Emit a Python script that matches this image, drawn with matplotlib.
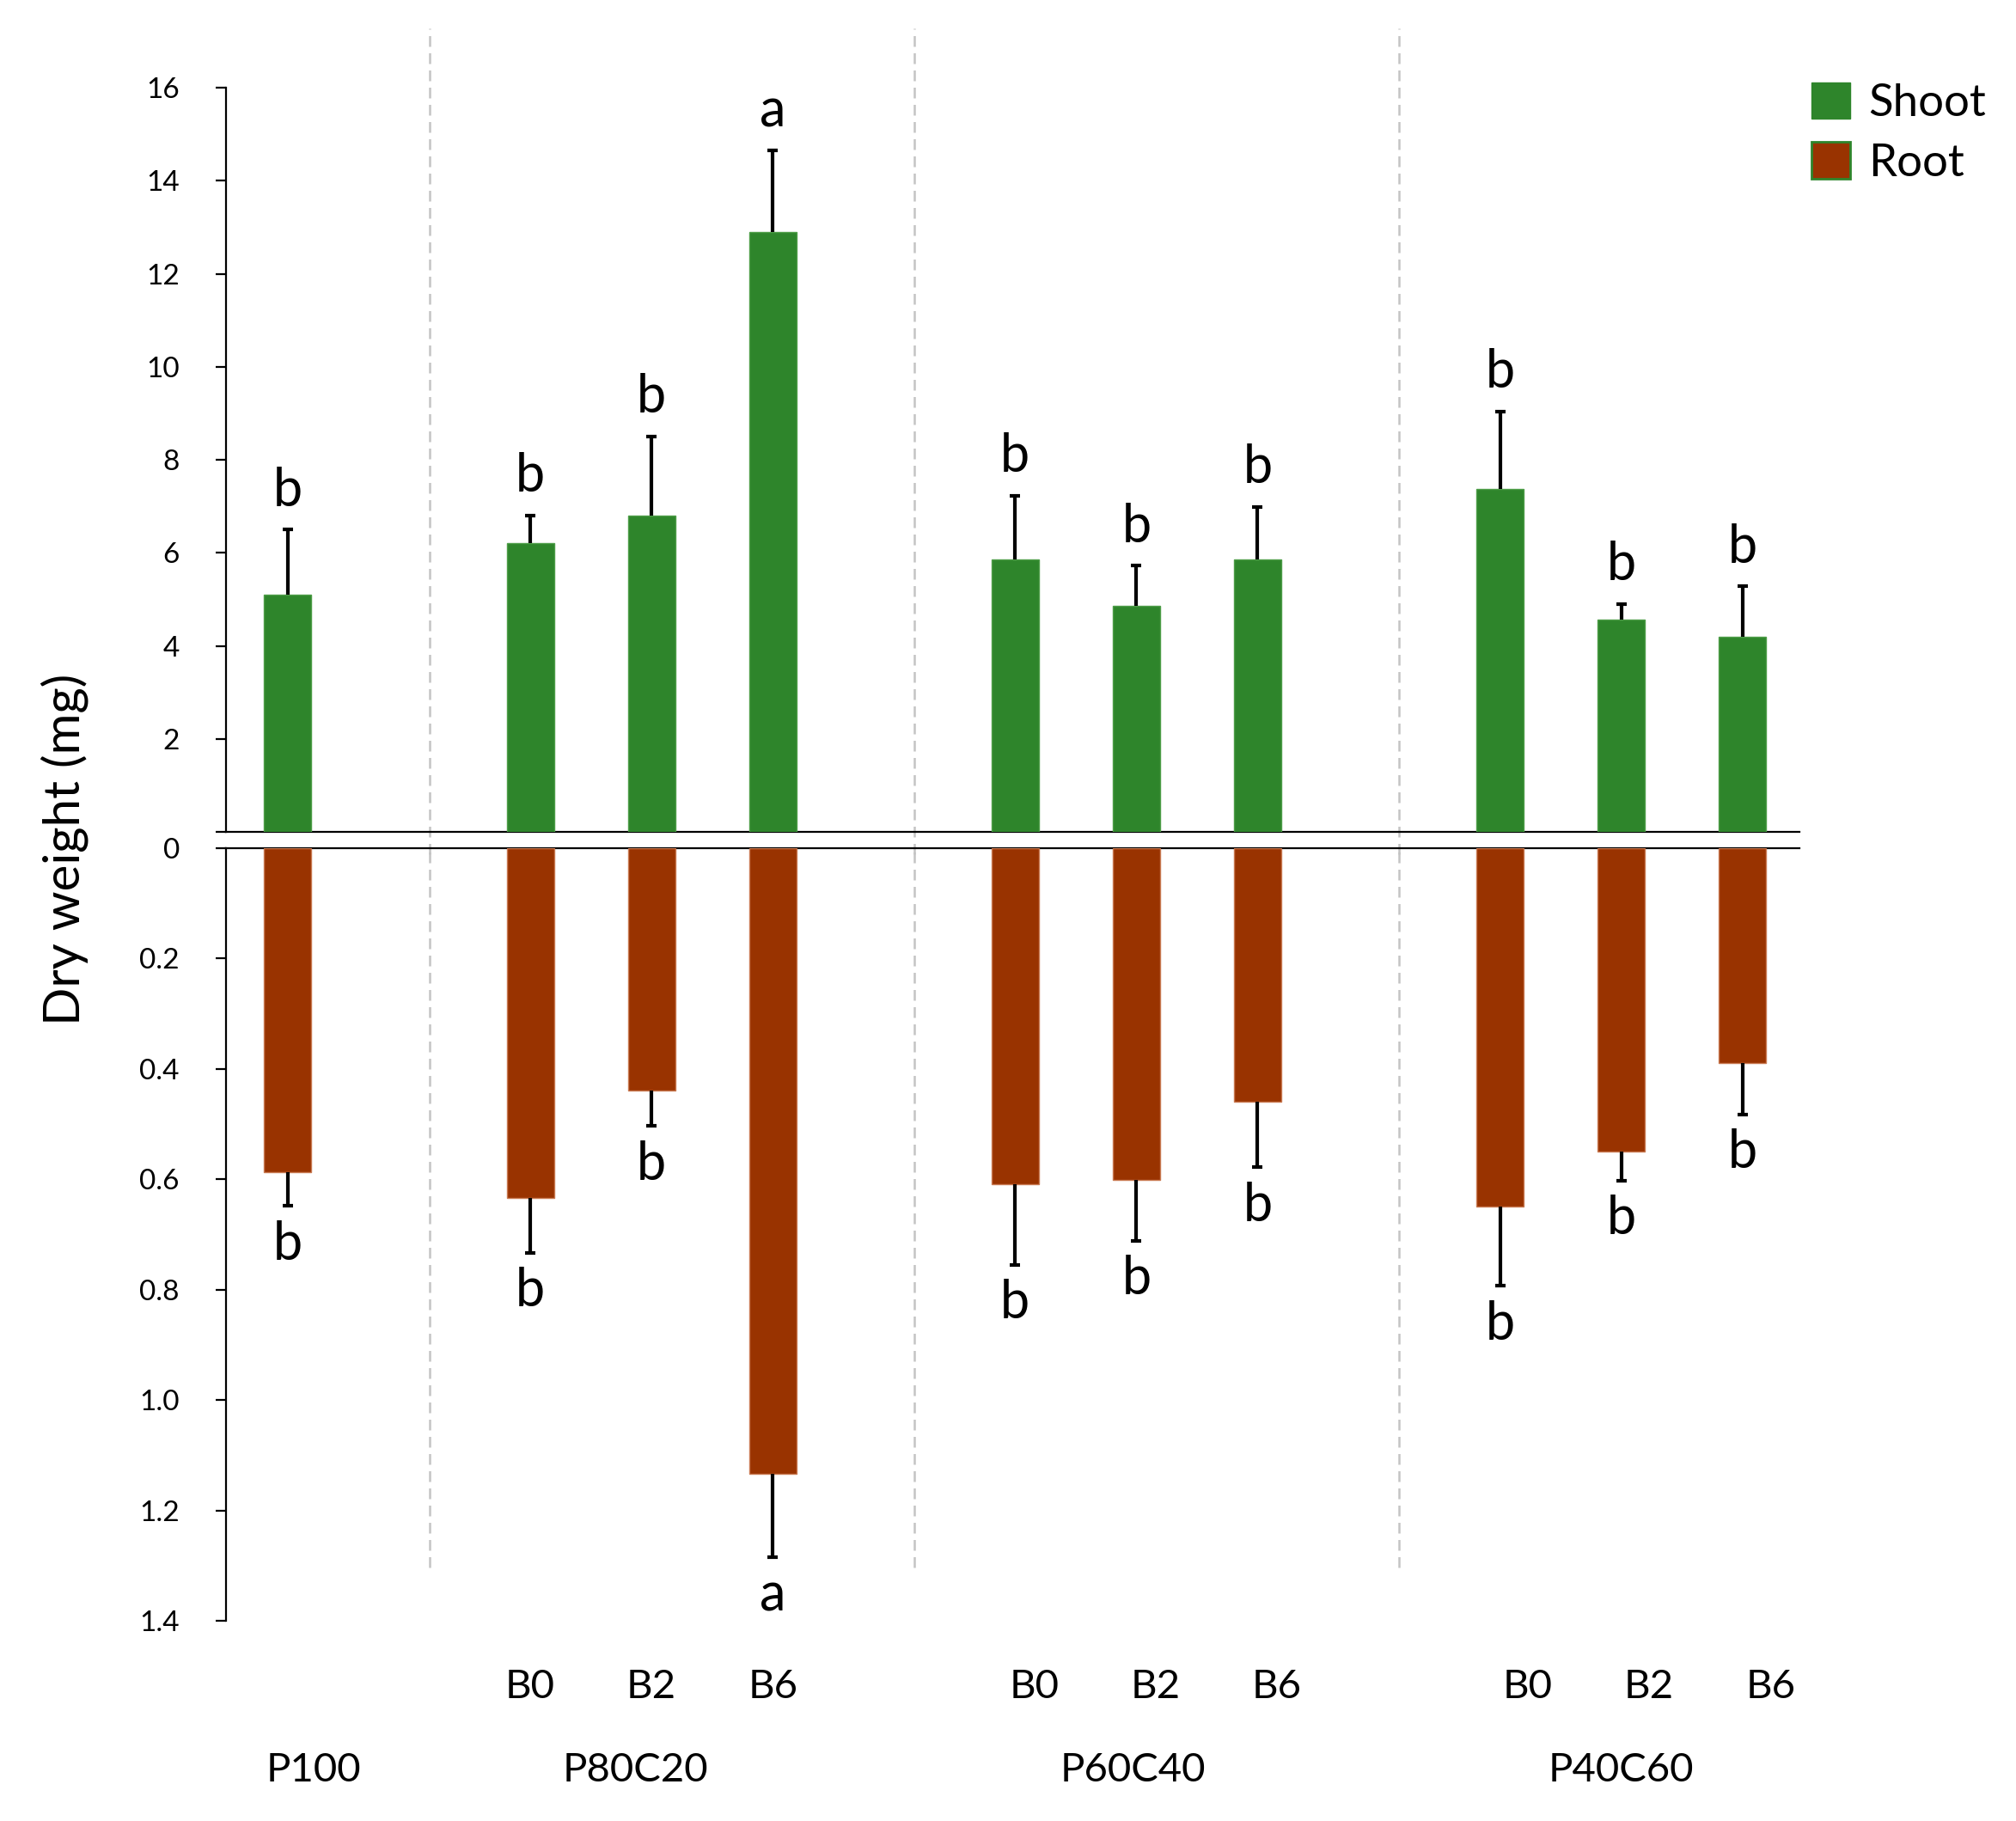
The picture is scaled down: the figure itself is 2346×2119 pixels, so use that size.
import matplotlib
matplotlib.use("Agg")
import matplotlib.pyplot as plt
import matplotlib.transforms as mtransforms
from matplotlib.patches import Patch

plt.rcParams['font.family'] = ['Lato', 'DejaVu Sans']

# data
groups = ['P100', 'P80C20', 'P60C40', 'P40C60']
treatments = ['', 'B0', 'B2', 'B6', 'B0', 'B2', 'B6', 'B0', 'B2', 'B6']
slots = [0, 2, 3, 4, 6, 7, 8, 10, 11, 12]
shoot = [5.1, 6.2, 6.8, 12.9, 5.85, 4.85, 5.85, 7.37, 4.57, 4.2]
shoot_err = [1.4, 0.6, 1.7, 1.75, 1.38, 0.87, 1.14, 1.67, 0.33, 1.08]
root = [0.587, 0.634, 0.439, 1.133, 0.609, 0.601, 0.459, 0.650, 0.550, 0.389]
root_err = [0.061, 0.099, 0.064, 0.151, 0.146, 0.110, 0.119, 0.143, 0.052, 0.093]
shoot_letters = ['b', 'b', 'b', 'a', 'b', 'b', 'b', 'b', 'b', 'b']
root_letters = ['b', 'b', 'b', 'a', 'b', 'b', 'b', 'b', 'b', 'b']
shoot_ticks = [0, 2, 4, 6, 8, 10, 12, 14, 16]
root_ticks = [0, 0.2, 0.4, 0.6, 0.8, 1.0, 1.2, 1.4]

green = '#2E852B'
brown = '#993300'
W, H = 2346, 2119

fig = plt.figure(figsize=(W / 100, H / 100), dpi=100)
left, right = 263 / W, 2094 / W
ax_s = fig.add_axes([left, 1 - 968 / H, right - left, (968 - 102) / H])
ax_r = fig.add_axes([left, 1 - 1886 / H, right - left, (1886 - 987) / H])

xlim = (-0.51, 12.47)
seps = [1.17, 5.17, 9.17]


def one_sided_err(ax, xs, vals, errs):
    tops = [v + e for v, e in zip(vals, errs)]
    ax.vlines(xs, vals, tops, color='black', linewidth=3, zorder=4)
    ax.plot(xs, tops, linestyle='none', marker='_', markersize=9,
            markeredgewidth=3, color='black', zorder=4)
    return tops


# shoot panel
ax_s.bar(slots, shoot, width=0.39, color=green, edgecolor='#4E9E48', linewidth=1, zorder=3)
tops = one_sided_err(ax_s, slots, shoot, shoot_err)
for x, y, t in zip(slots, tops, shoot_letters):
    ax_s.annotate(t, (x, y), xytext=(0, 12), textcoords='offset points',
                  ha='center', va='bottom', fontsize=44)
ax_s.set_xlim(*xlim)
ax_s.set_ylim(0, 16)
ax_s.set_yticks(shoot_ticks)
ax_s.set_yticklabels([''] + [str(t) for t in shoot_ticks[1:]])
ax_s.set_xticks([])
for s in ['top', 'right']:
    ax_s.spines[s].set_visible(False)

# root panel
ax_r.bar(slots, root, width=0.39, color=brown, edgecolor='#C97A52', linewidth=1, zorder=3)
bottoms = one_sided_err(ax_r, slots, root, root_err)
for x, y, t in zip(slots, bottoms, root_letters):
    ax_r.annotate(t, (x, y), xytext=(0, -12), textcoords='offset points',
                  ha='center', va='top', fontsize=44)
ax_r.set_xlim(*xlim)
ax_r.set_ylim(1.4, 0)
ax_r.set_yticks(root_ticks)
ax_r.set_yticklabels(['0'] + ['%.1f' % t for t in root_ticks[1:]])
ax_r.set_xticks([])
for s in ['bottom', 'right']:
    ax_r.spines[s].set_visible(False)

for ax in (ax_s, ax_r):
    for s in ax.spines.values():
        s.set_linewidth(1.6)
        s.set_color('black')
    ax.tick_params(axis='y', direction='out', length=9, width=1.6, pad=30,
                   labelsize=24, colors='black')
    ax.set_facecolor('none')

# dashed separators between treatment groups
for x in seps:
    ax_s.axvline(x, ymin=-0.03, ymax=1 + (102 - 33) / 866, color='#C4C4C4',
                 linestyle=(0, (5, 3)), linewidth=1.8, clip_on=False, zorder=1)
    ax_r.axvline(x, ymin=(1886 - 1824) / 899, ymax=1.0, color='#C4C4C4',
                 linestyle=(0, (5, 3)), linewidth=1.8, clip_on=False, zorder=1)

# category labels under the plot
trans = mtransforms.blended_transform_factory(ax_r.transData, fig.transFigure)
shift = [0, 0, 0, 0, 0.16, 0.16, 0.16, 0.23, 0.23, 0.23]
for x, t, d in zip(slots, treatments, shift):
    fig.text(x + d, 1 - 1963 / H, t, transform=trans, ha='center', va='center', fontsize=34)
group_x = [0.21, 2.87, 6.97, 11.0]
for x, g in zip(group_x, groups):
    fig.text(x, 1 - 2060 / H, g, transform=trans, ha='center', va='center', fontsize=34)

fig.text(75 / W, 1 - 988 / H, 'Dry weight (mg)', rotation=90, ha='center', va='center',
         fontsize=42)

handles = [Patch(facecolor=green, edgecolor=green), Patch(facecolor=brown, edgecolor=green, linewidth=2)]
fig.legend(handles, ['Shoot', 'Root'], loc='upper left',
           bbox_to_anchor=(2108 / W, 1 - 96 / H), frameon=False, fontsize=38,
           borderpad=0, borderaxespad=0, handlelength=0.85, handleheight=0.85,
           handletextpad=0.4, labelspacing=0.4)

fig.savefig('out.png', dpi=100)
